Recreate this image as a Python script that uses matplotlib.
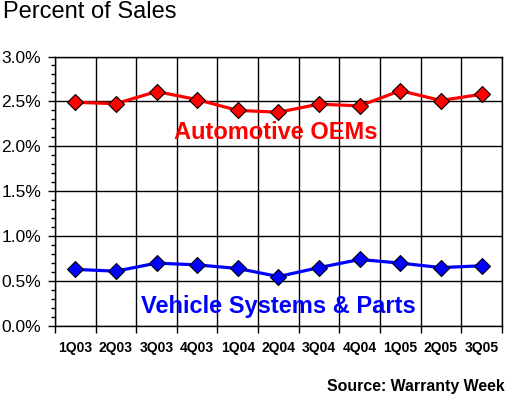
import numpy as np
import matplotlib.pyplot as plt
from matplotlib.ticker import MultipleLocator, FuncFormatter

quarters = ["1Q03", "2Q03", "3Q03", "4Q03", "1Q04", "2Q04",
            "3Q04", "4Q04", "1Q05", "2Q05", "3Q05"]
oems = [2.49, 2.475, 2.61, 2.52, 2.40, 2.38, 2.47, 2.45, 2.62, 2.51, 2.58]
suppliers = [0.63, 0.61, 0.70, 0.68, 0.64, 0.55, 0.65, 0.74, 0.70, 0.65, 0.67]

plt.rcParams['font.family'] = ['Liberation Sans', 'DejaVu Sans']

fig = plt.figure(figsize=(5.09, 3.98), dpi=100)
ax = fig.add_axes([0.108, 0.181, 0.878, 0.677])

x = np.arange(len(quarters))
ax.plot(x, oems, color='#ff0000', lw=2.3, marker='D', ms=8.5,
        mfc='#ff0000', mec='black', mew=0.8, zorder=3)
ax.plot(x, suppliers, color='#0000ff', lw=2.3, marker='D', ms=8.5,
        mfc='#0000ff', mec='black', mew=0.8, zorder=3)

ax.set_xlim(-0.5, len(quarters) - 0.5)
ax.set_ylim(0, 3.0)

# y axis
ax.yaxis.set_major_locator(MultipleLocator(0.5))
ax.yaxis.set_minor_locator(MultipleLocator(0.1))
ax.yaxis.set_major_formatter(FuncFormatter(lambda v, p: "%.1f%%" % v))
ax.tick_params(axis='y', which='major', length=5, width=1, pad=5, labelsize=12.5)
ax.tick_params(axis='y', which='minor', length=3, width=1)
ax.yaxis.grid(True, which='major', color='black', lw=1)

# x axis: labels at centres, ticks and grid at category boundaries
ax.set_xticks(x)
ax.set_xticklabels(quarters, fontweight='bold', fontsize=10)
ax.tick_params(axis='x', which='major', length=0, pad=11)
ax.set_xticks(np.arange(-0.5, len(quarters)), minor=True)
ax.tick_params(axis='x', which='minor', length=5, width=1)
ax.xaxis.grid(True, which='minor', color='black', lw=1)
ax.set_axisbelow(True)

for s in ax.spines.values():
    s.set_color('black')
    s.set_linewidth(1)

ax.text(0.494, 2.15, "Automotive OEMs", transform=ax.get_yaxis_transform(),
        color='#ff0000', fontsize=17, fontweight='bold', ha='center', va='center')
ax.text(0.501, 0.215, "Vehicle Systems & Parts", transform=ax.get_yaxis_transform(),
        color='#0000ff', fontsize=17, fontweight='bold', ha='center', va='center')

fig.text(3 / 509, 1 - 12 / 398, "Percent of Sales", fontsize=17,
         ha='left', va='center')
fig.text(505 / 509, 1 - 386 / 398, "Source: Warranty Week", fontsize=11.4,
         fontweight='bold', ha='right', va='center')

fig.savefig('out.png', dpi=100)
